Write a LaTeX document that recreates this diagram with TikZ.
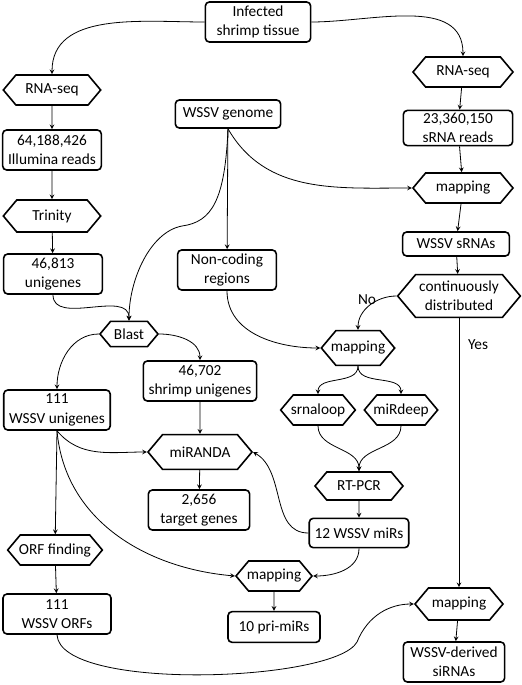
\documentclass[tikz,border=0pt]{standalone}
\usepackage{fontspec}
\setmainfont{Carlito}
\usetikzlibrary{shapes.symbols}
\begin{document}
\begin{tikzpicture}[x=0.75pt, y=-0.75pt,
    font=\fontsize{11.5}{14.5}\selectfont,
    box/.style={draw, line width=1.2pt, rounded corners=3pt, align=center,
        minimum width=74pt, minimum height=30pt, inner xsep=4pt, inner ysep=2pt},
    box1/.style={box, minimum height=21pt},
    hexa/.style={draw, line width=1.2pt, signal, signal to=west and east,
        signal pointer angle=100, align=center, inner xsep=-6pt, inner ysep=1pt,
        minimum width=73pt, minimum height=22.5pt},
    every path/.style={line width=0.6pt},
    >=stealth]
        \useasboundingbox (0,0) rectangle (521,685);

        \node[box, minimum width=79pt] (infected) at (258,22) {Infected\\shrimp tissue};
        \node[hexa] (rnaseqL) at (52,90) {RNA-seq};
        \node[box] (illumina) at (52,150) {64,188,426\\Illumina reads};
        \node[hexa, minimum height=24pt] (trinity) at (52,216) {Trinity};
        \node[box] (unigenes) at (53,274) {46,813\\unigenes};
        \node[box1, minimum width=79pt] (genome) at (228,114) {WSSV genome};
        \node[box] (noncoding) at (227,270) {Non-coding\\regions};
        \node[hexa, minimum width=43.5pt, minimum height=19pt] (blast) at (129,334) {Blast};
        \node[box] (shrimp) at (200,381) {46,702\\shrimp unigenes};
        \node[box] (wssvuni) at (57,410) {111\\WSSV unigenes};
        \node[hexa, minimum width=78pt, minimum height=26pt] (miranda) at (200,452) {miRANDA};
        \node[box, minimum width=76pt] (targets) at (199,510) {2,656\\target genes};
        \node[hexa, minimum width=71pt] (orf) at (55,550) {ORF finding};
        \node[box, minimum width=81pt] (orfs) at (57,614) {111\\WSSV ORFs};
        \node[hexa, minimum width=57pt] (mapBM) at (274,576) {mapping};
        \node[box1, minimum width=69pt, minimum height=23pt] (primirs) at (274,627) {10 pri-miRs};
        \node[box1, minimum height=22pt] (mirs) at (359,533) {12 WSSV miRs};
        \node[hexa, minimum width=66pt, minimum height=21pt] (rtpcr) at (359,486) {RT-PCR};
        \node[hexa, minimum width=56pt] (srnaloop) at (318,410) {srnaloop};
        \node[hexa, minimum width=55pt] (mirdeep) at (401,410) {miRdeep};
        \node[hexa, minimum width=55pt, minimum height=26pt] (mapMid) at (358,348) {mapping};
        \node[hexa, minimum width=92pt, minimum height=32pt] (contdist) at (459,296) {continuously\\distributed};
        \node[box1, minimum width=80pt, minimum height=18pt] (srnas) at (456,244) {WSSV sRNAs};
        \node[hexa, minimum width=75pt] (mapTR) at (463,188) {mapping};
        \node[box, minimum width=82pt, minimum height=26pt] (sreads) at (458,128) {23,360,150\\sRNA reads};
        \node[hexa, minimum width=75pt] (rnaseqR) at (463,72) {RNA-seq};
        \node[hexa, minimum width=66pt, minimum height=24pt] (mapBR) at (459,604) {mapping};
        \node[box, minimum width=76pt] (sirnas) at (454,662) {WSSV-derived\\siRNAs};

        \node (no) at (367,300) {No};
        \node (yes) at (478,345) {Yes};

        % left branch
        \draw[->] (infected.west) to[out=180, in=90] (rnaseqL.north);
        \draw[->] (rnaseqL) -- (illumina);
        \draw[->] (illumina) -- (trinity);
        \draw[->] (trinity) -- (unigenes);
        \draw[->] (unigenes.south) to[out=-90, in=90] (blast.north);
        \draw[->] (genome.south) .. controls (225,200) and (212,222) .. (182,226)
            .. controls (150,232) and (129,280) .. (blast.north);
        \draw[->] (blast.west) to[out=180, in=90] (wssvuni.north);
        \draw[->] (blast.east) to[out=0, in=90] (shrimp.north);
        \draw[->] (shrimp) -- (miranda);
        \draw[->] (miranda) -- (targets);
        \draw[->] (wssvuni.south) to[out=-50, in=180] (miranda.west);
        \draw[->] (wssvuni.south) -- (orf);
        \draw[->] (wssvuni.south) to[out=-85, in=175] (mapBM.west);
        \draw[->] (orf) -- (orfs);
        \draw[->] (orfs.south) .. controls (60,692) and (335,682) .. (357,642)
            .. controls (368,615) and (390,604) .. (mapBR.west);
        \draw[->] (mapBM) -- (primirs);

        % middle
        \draw[->] (genome) -- (noncoding);
        \draw[->] (genome.south) to[out=-60, in=180] (mapTR.west);
        \draw[->] (noncoding.south) to[out=-90, in=180] (mapMid.west);
        \draw[->] (mapMid.south) to[out=-90, in=90] (srnaloop.north);
        \draw[->] (mapMid.south) to[out=-90, in=90] (mirdeep.north);
        \draw[->] (srnaloop.south) to[out=-90, in=90] (rtpcr.north);
        \draw[->] (mirdeep.south) to[out=-90, in=90] (rtpcr.north);
        \draw[->] (rtpcr) -- (mirs);
        \draw[->] (mirs.west) to[out=180, in=-30] (miranda.east);
        \draw[->] (mirs.south) to[out=-90, in=0] (mapBM.east);

        % right branch
        \draw[->] (infected.east) to[out=0, in=90] (rnaseqR.north);
        \draw[->] (rnaseqR) -- (sreads);
        \draw[->] (sreads) -- (mapTR);
        \draw[->] (mapTR) -- (srnas);
        \draw[->] (srnas) -- (contdist);
        \draw[->] (contdist.west) to[out=180, in=90] (mapMid.north);
        \draw[->] (contdist.south) -- (mapBR.north);
        \draw[->] (mapBR) -- (sirnas);

    \end{tikzpicture}
\end{document}
